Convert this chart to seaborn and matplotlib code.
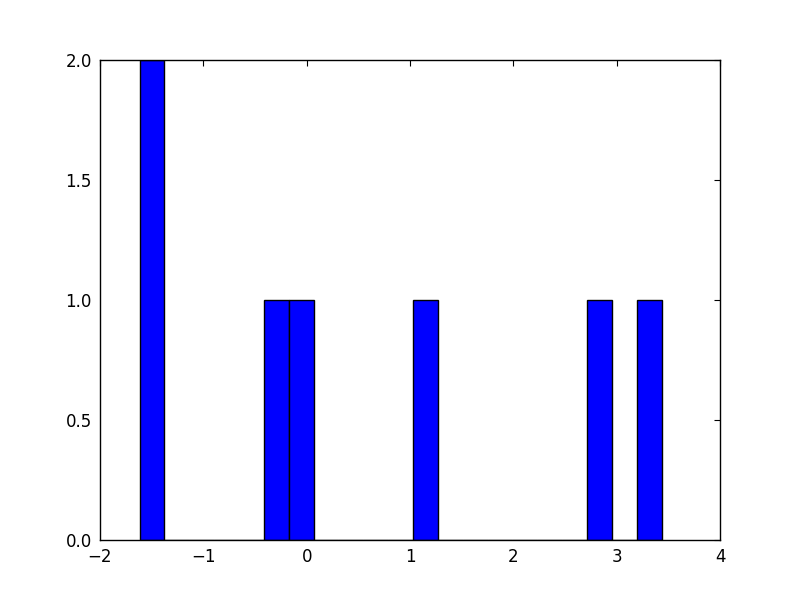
import matplotlib
matplotlib.use('Agg')
import matplotlib.pyplot as plt
import seaborn as sns
import pandas as pd

# values (21 equal bins between min and max)
values = [-1.617, -1.52, -0.30, -0.05, 1.15, 2.83, 3.435]
n_bins = 21

sns.set_style('white')
plt.rcParams.update({
    'font.family': ['DejaVu Sans'],
    'xtick.direction': 'in', 'ytick.direction': 'in',
    'xtick.top': True, 'ytick.right': True,
    'xtick.major.size': 4, 'ytick.major.size': 4,
    'xtick.labelsize': 12, 'ytick.labelsize': 12,
    'axes.edgecolor': 'black', 'axes.linewidth': 1.0,
})

fig = plt.figure(figsize=(8, 6), dpi=100)
ax = fig.add_axes([0.125, 0.1, 0.775, 0.8])
df = pd.DataFrame({'x': values})
sns.histplot(data=df, x='x', bins=n_bins, color='blue', edgecolor='black',
             linewidth=1.0, alpha=1.0, ax=ax)
ax.set_xlim(-2, 4)
ax.set_ylim(0, 2)
ax.set_yticks([0.0, 0.5, 1.0, 1.5, 2.0])
ax.set_yticklabels(['0.0', '0.5', '1.0', '1.5', '2.0'])
ax.set_xlabel('')
ax.set_ylabel('')
for s in ax.spines.values():
    s.set_visible(True)
    s.set_color('black')
ax.tick_params(colors='black', pad=6)
fig.savefig('out.png', dpi=100, facecolor='white')
